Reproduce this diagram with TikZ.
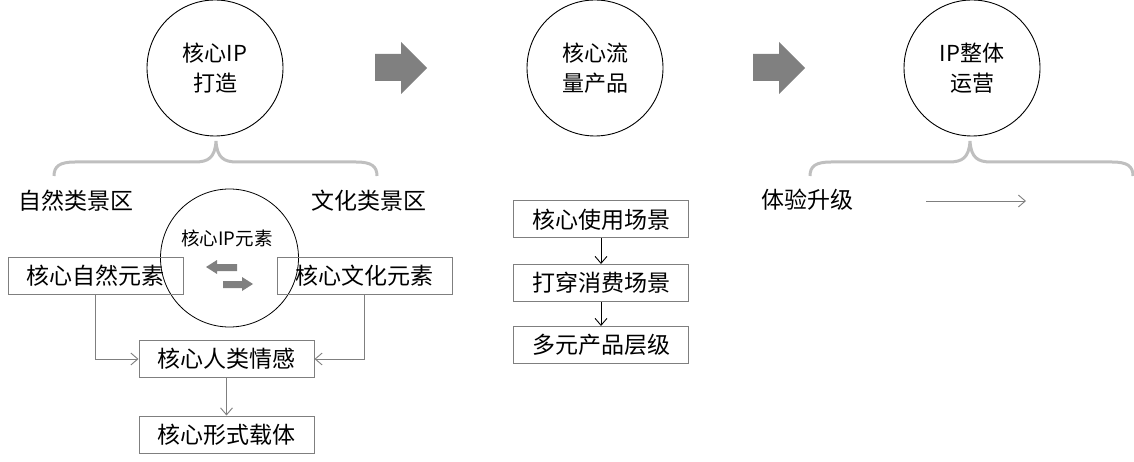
\documentclass[tikz,border=0pt]{standalone}
\usepackage{fontspec}
\setmainfont{Noto Sans CJK SC}
\usetikzlibrary{arrows.meta}
\definecolor{boxgray}{HTML}{7F7F7F}
\definecolor{bracegray}{HTML}{BFBFBF}
\definecolor{arrowgray}{HTML}{808080}
\tikzset{
  bigcircle/.style={circle,draw=black,line width=0.9pt,minimum size=136pt,inner sep=0pt,align=center,font=\fontsize{22}{30}\selectfont},
  flowbox/.style={rectangle,draw=boxgray,line width=1pt,minimum width=175pt,minimum height=37pt,inner sep=0pt,font=\fontsize{23}{28}\selectfont},
  label/.style={inner sep=0pt,font=\fontsize{23}{28}\selectfont},
  brace/.style={draw=bracegray,line width=3pt},
  blockarrow/.style={fill=arrowgray,draw=none},
  grayconn/.style={draw=boxgray,line width=0.9pt,-{Straight Barb[length=7pt,width=12pt]}},
  blackconn/.style={draw=black,line width=0.9pt,-{Straight Barb[length=7pt,width=12pt]}},
}
\begin{document}
\begin{tikzpicture}[x=1pt,y=-1pt]
\useasboundingbox (0,0) rectangle (1134,462);

% top circles
\node[bigcircle] (c1) at (215,68) {核心IP\\打造};
\node[bigcircle] (c2) at (595,68) {核心流\\量产品};
\node[bigcircle] (c3) at (972,68) {IP整体\\运营};

% block arrows
\path[blockarrow] (375,54) -- (401,54) -- (401,42) -- (427,68) -- (401,94) -- (401,81) -- (375,81) -- cycle;
\path[blockarrow] (753,54) -- (779,54) -- (779,42) -- (805,68) -- (779,94) -- (779,81) -- (753,81) -- cycle;

% braces
\draw[brace] (54,176) .. controls (54,166) and (60,162) .. (75,162) -- (195,162)
  .. controls (208,162) and (215,158) .. (216,141)
  .. controls (217,158) and (224,162) .. (237,162) -- (356,162)
  .. controls (371,162) and (377,166) .. (377,176);
\draw[brace] (810,176) .. controls (810,166) and (816,162) .. (831,162) -- (949,162)
  .. controls (962,162) and (969,158) .. (970,141)
  .. controls (971,158) and (978,162) .. (991,162) -- (1112,162)
  .. controls (1127,162) and (1133,166) .. (1133,176);

% left section
\node[label] (nat) at (75.5,201) {自然类景区};
\node[label] (cul) at (368.5,201) {文化类景区};
\node[circle,draw=black,line width=0.8pt,minimum size=138pt,inner sep=0pt] (ipc) at (229.5,258) {};
\node[inner sep=0pt,font=\fontsize{18.5}{22}\selectfont] (iplab) at (227,238) {核心IP元素};
\node[flowbox] (natel) at (95.5,276) {核心自然元素};
\node[flowbox] (culel) at (364.5,276) {核心文化元素};
\path[blockarrow] (206,267) -- (217,260) -- (217,264) -- (237,264) -- (237,271) -- (217,271) -- (217,274) -- cycle;
\path[blockarrow] (253,284) -- (242,277) -- (242,281) -- (223,281) -- (223,288) -- (242,288) -- (242,291) -- cycle;
\node[flowbox] (emo) at (226.5,359) {核心人类情感};
\node[flowbox] (form) at (226.5,434.5) {核心形式载体};
\draw[grayconn] (natel.south) |- (emo.west);
\draw[grayconn] (culel.south) |- (emo.east);
\draw[grayconn] (emo.south) -- (form.north);

% middle section
\node[flowbox] (m1) at (601,219.5) {核心使用场景};
\node[flowbox] (m2) at (601,283) {打穿消费场景};
\node[flowbox] (m3) at (601,345) {多元产品层级};
\draw[blackconn] (m1.south) -- (m2.north);
\draw[blackconn] (m2.south) -- (m3.north);

% right section
\node[label] (exp) at (807,200) {体验升级};
\coordinate (ea) at (926,201);
\coordinate (eb) at (1026,201);
\draw[grayconn] (ea) -- (eb);
\end{tikzpicture}
\end{document}
